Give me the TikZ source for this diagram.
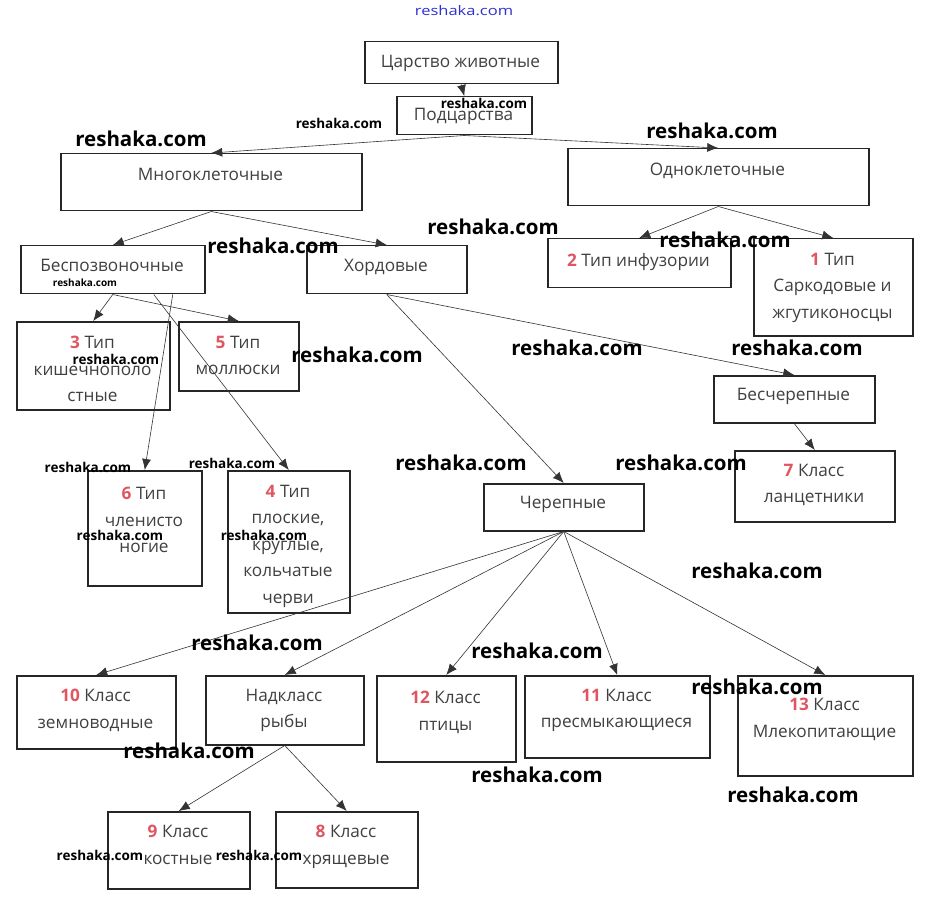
\documentclass[tikz,border=0pt]{standalone}
\usepackage{fontspec}
\setmainfont{Open Sans}
\usetikzlibrary{arrows.meta}

\definecolor{numred}{HTML}{E05560}
\definecolor{txtgray}{HTML}{404040}
\definecolor{wmblue}{HTML}{3030D0}
\newcommand{\nr}[1]{\textcolor{numred}{\bfseries #1}}

\tikzset{
  box/.style={draw=black!85,line width=1.5pt,anchor=north west,inner sep=0pt},
  lbl/.style={anchor=north,align=center,inner sep=0pt,text=txtgray,font=\fontsize{17.2}{26.5}\selectfont},
  conn/.style={draw=black!80,line width=0.6pt,-{Latex[length=11pt,width=9pt]}},
  wmbig/.style={font=\fontsize{20.5}{24}\selectfont\bfseries,inner sep=0pt},
  wmsmall/.style={font=\fontsize{13.5}{16}\selectfont\bfseries,inner sep=0pt},
}

\begin{document}
\begin{tikzpicture}[x=1pt,y=-1pt]
\fill[white] (0,0) rectangle (926,909);
\useasboundingbox (0,0) rectangle (926,909);

% boxes
\node[box,minimum width=193pt,minimum height=42pt] (tsar) at (364,41) {};
\node[box,minimum width=135pt,minimum height=38pt] (podc) at (396,96) {};
\node[box,minimum width=301pt,minimum height=57pt] (mnogo) at (60,153) {};
\node[box,minimum width=301pt,minimum height=57pt] (odno) at (567,148) {};
\node[box,minimum width=184pt,minimum height=48pt] (bespoz) at (20,245) {};
\node[box,minimum width=160pt,minimum height=48pt] (chord) at (306,245) {};
\node[box,minimum width=183pt,minimum height=49pt] (inf) at (547,238) {};
\node[box,minimum width=159pt,minimum height=97pt] (sark) at (753,238) {};
\node[box,minimum width=153pt,minimum height=88pt] (kish) at (16,321) {};
\node[box,minimum width=120pt,minimum height=69pt] (moll) at (178,321) {};
\node[box,minimum width=114pt,minimum height=115pt] (chlen) at (87,470) {};
\node[box,minimum width=122pt,minimum height=142pt] (ploskie) at (227,470) {};
\node[box,minimum width=161pt,minimum height=47pt] (bescher) at (713,375) {};
\node[box,minimum width=160pt,minimum height=71pt] (lanc) at (734,450) {};
\node[box,minimum width=160pt,minimum height=47pt] (cherep) at (483,483) {};
\node[box,minimum width=159pt,minimum height=73pt] (zemn) at (16,675) {};
\node[box,minimum width=158pt,minimum height=69pt] (ryby) at (205,675) {};
\node[box,minimum width=139pt,minimum height=86pt] (ptic) at (376,675) {};
\node[box,minimum width=185pt,minimum height=82pt] (presm) at (524,675) {};
\node[box,minimum width=175pt,minimum height=100pt] (mlek) at (737,675) {};
\node[box,minimum width=142pt,minimum height=77pt] (kost) at (107,811) {};
\node[box,minimum width=142pt,minimum height=76pt] (khryash) at (275,811) {};

% texts (top of first line)
\node[lbl] (tsar-t) at (460.5,55) {Царство животные};
\node[lbl] (podc-t) at (463.5,108) {Подцарства};
\node[lbl] (mnogo-t) at (210.5,168) {Многоклеточные};
\node[lbl] (odno-t) at (717.5,163) {Одноклеточные};
\node[lbl] (bespoz-t) at (112,259) {Беспозвоночные};
\node[lbl] (chord-t) at (386,259) {Хордовые};
\node[lbl] (inf-t) at (638.5,253) {\nr{2} Тип инфузории};
\node[lbl] (sark-t) at (832.5,253) {\nr{1} Тип\\Саркодовые и\\жгутиконосцы};
\node[lbl] (kish-t) at (92.5,336) {\nr{3} Тип\\кишечнополо\\стные};
\node[lbl] (moll-t) at (238,336) {\nr{5} Тип\\моллюски};
\node[lbl] (chlen-t) at (144,487) {\nr{6} Тип\\членисто\\ногие};
\node[lbl] (ploskie-t) at (288,485) {\nr{4} Тип\\плоские,\\круглые,\\кольчатые\\черви};
\node[lbl] (bescher-t) at (793.5,388) {Бесчерепные};
\node[lbl] (lanc-t) at (814,464) {\nr{7} Класс\\ланцетники};
\node[lbl] (cherep-t) at (563,496) {Черепные};
\node[lbl] (zemn-t) at (95.5,689) {\nr{10} Класс\\земноводные};
\node[lbl] (ryby-t) at (284,689) {Надкласс\\рыбы};
\node[lbl] (ptic-t) at (445.5,691) {\nr{12} Класс\\птицы};
\node[lbl] (presm-t) at (616.5,689) {\nr{11} Класс\\пресмыкающиеся};
\node[lbl] (mlek-t) at (824.5,698) {\nr{13} Класс\\Млекопитающие};
\node[lbl] (kost-t) at (178,825) {\nr{9} Класс\\костные};
\node[lbl] (khryash-t) at (346,825) {\nr{8} Класс\\хрящевые};

% arrows
\draw[conn] (tsar.south) -- (podc.north);
\draw[conn] (podc.south) -- (mnogo.north);
\draw[conn] (podc.south) -- (odno.north);
\draw[conn] (mnogo.south) -- (bespoz.north);
\draw[conn] (mnogo.south) -- (chord.north);
\draw[conn] (odno.south) -- (inf.north);
\draw[conn] (odno.south) -- (sark.north);
\draw[conn] (bespoz.south) -- (kish.north);
\draw[conn] (bespoz.south) -- (moll.north);
\draw[conn] ([xshift=41pt]bespoz.south) -- (ploskie.north);
\draw[conn] ([xshift=60pt]bespoz.south) -- (chlen.north);
\draw[conn] (chord.south) -- (bescher.north);
\draw[conn] (chord.south) -- (cherep.north);
\draw[conn] (bescher.south) -- (lanc.north);
\foreach \t in {zemn,ryby,ptic,presm,mlek}
  \draw[conn] (cherep.south) -- (\t.north);
\draw[conn] (ryby.south) -- (kost.north);
\draw[conn] (ryby.south) -- (khryash.north);

% watermarks
\node[font=\fontsize{16.5}{18}\selectfont,text=wmblue,yscale=0.8,inner sep=0pt] (wmtop) at (464,11) {reshaka.com};
\foreach \x/\y [count=\i] in {141/139,712/131,273/246,493/227,725/240,357/355,577/348,797/348,
  461/463,681/463,757/571,257/643,537/651,757/687,189/751,537/775,793/795}
  \node[wmbig] (wmb\i) at (\x,\y) {reshaka.com};
\foreach \x/\y [count=\i] in {484/103,339/123,116/359,88/467,232/463,120/535,264/535,100/855,259/855}
  \node[wmsmall] (wms\i) at (\x,\y) {reshaka.com};
\node[font=\fontsize{10}{12}\selectfont\bfseries,inner sep=0pt] (wmtiny) at (85,283) {reshaka.com};
\end{tikzpicture}
\end{document}
